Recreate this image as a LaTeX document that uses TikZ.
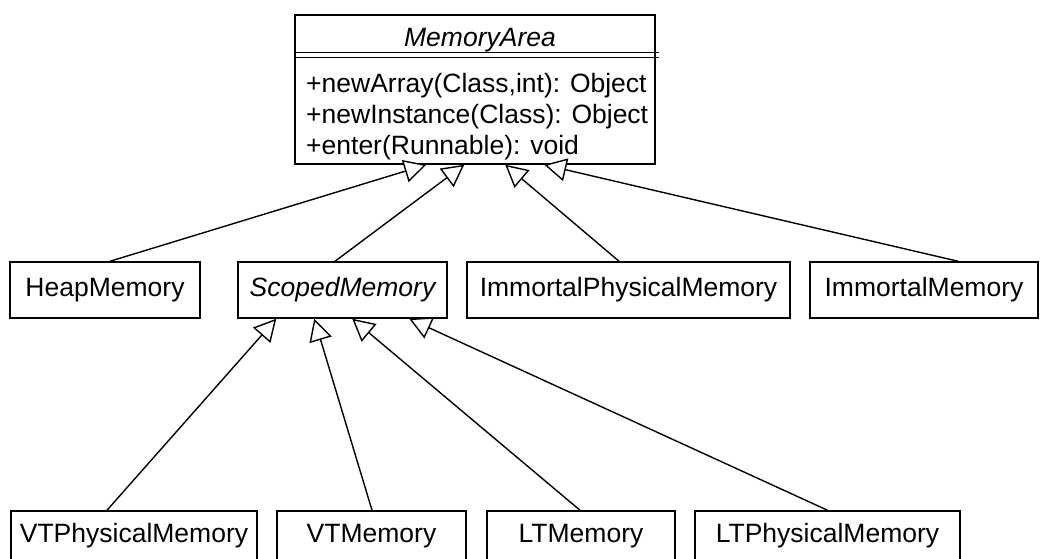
\documentclass[tikz,border=0pt]{standalone}
\usepackage{fontspec}
\setmainfont{Liberation Sans}
\usetikzlibrary{arrows.meta}
\begin{document}
\begin{tikzpicture}[x=1pt,y=-1pt,
  txt/.style={font=\fontsize{26.5}{30}\selectfont},
  box/.style={draw, line width=1.5pt, inner sep=0pt, txt},
  lbl/.style={inner sep=0pt, txt},
  inh/.style={line width=1.4pt, -{Triangle[length=22pt,width=23pt,fill=white,line width=1.4pt]}},
  sep/.style={line width=1.4pt}
  ]
\clip (0,0) rectangle (1044,559);
% MemoryArea class
\node[box, minimum width=360pt, minimum height=149pt] (ma) at (475,89.5) {};
\node[lbl, font=\fontsize{26.5}{30}\selectfont\itshape, anchor=base] (title) at (480,47) {MemoryArea};
\draw[sep] ([yshift=-38pt]ma.north west) -- ([yshift=-38pt,xshift=3pt]ma.north east);
\draw[sep] ([yshift=-43pt]ma.north west) -- ([yshift=-43pt,xshift=3pt]ma.north east);
\node[lbl, anchor=base west] (m1) at (306,93) {+newArray(Class,int): Object};
\node[lbl, anchor=base west] (m2) at (306,123.5) {+newInstance(Class): Object};
\node[lbl, anchor=base west] (m3) at (306,154) {+enter(Runnable): void};
% second row
\node[box, minimum width=190pt, minimum height=56pt] (heap) at (105,290) {HeapMemory};
\node[box, minimum width=209pt, minimum height=56pt] (scoped) at (342.5,290) {\itshape ScopedMemory};
\node[box, minimum width=323pt, minimum height=56pt] (ipm) at (628.5,290) {ImmortalPhysicalMemory};
\node[box, minimum width=228pt, minimum height=56pt] (im) at (924,290) {ImmortalMemory};
% third row
\node[box, minimum width=246pt, minimum height=50pt] (vtp) at (134,536) {VTPhysicalMemory};
\node[box, minimum width=189pt, minimum height=50pt] (vtm) at (371.5,536) {VTMemory};
\node[box, minimum width=188pt, minimum height=50pt] (ltm) at (581,536) {LTMemory};
\node[box, minimum width=265pt, minimum height=50pt] (ltp) at (827.5,536) {LTPhysicalMemory};
% inheritance to MemoryArea
\draw[inh] ([xshift=5pt]heap.north) -- ([xshift=132pt]ma.south west);
\draw[inh] ([xshift=-7.5pt]scoped.north) -- ([xshift=170pt]ma.south west);
\draw[inh] ([xshift=-9.5pt]ipm.north) -- ([xshift=211pt]ma.south west);
\draw[inh] ([xshift=34pt]im.north) -- ([xshift=250pt]ma.south west);
% inheritance to ScopedMemory
\draw[inh] ([xshift=-27pt]vtp.north) -- ([xshift=39pt]scoped.south west);
\draw[inh] ([xshift=0.5pt]vtm.north) -- ([xshift=77pt]scoped.south west);
\draw[inh] ([xshift=-1pt]ltm.north) -- ([xshift=115pt]scoped.south west);
\draw[inh] ([xshift=0pt]ltp.north) -- ([xshift=172pt]scoped.south west);
\end{tikzpicture}
\end{document}
